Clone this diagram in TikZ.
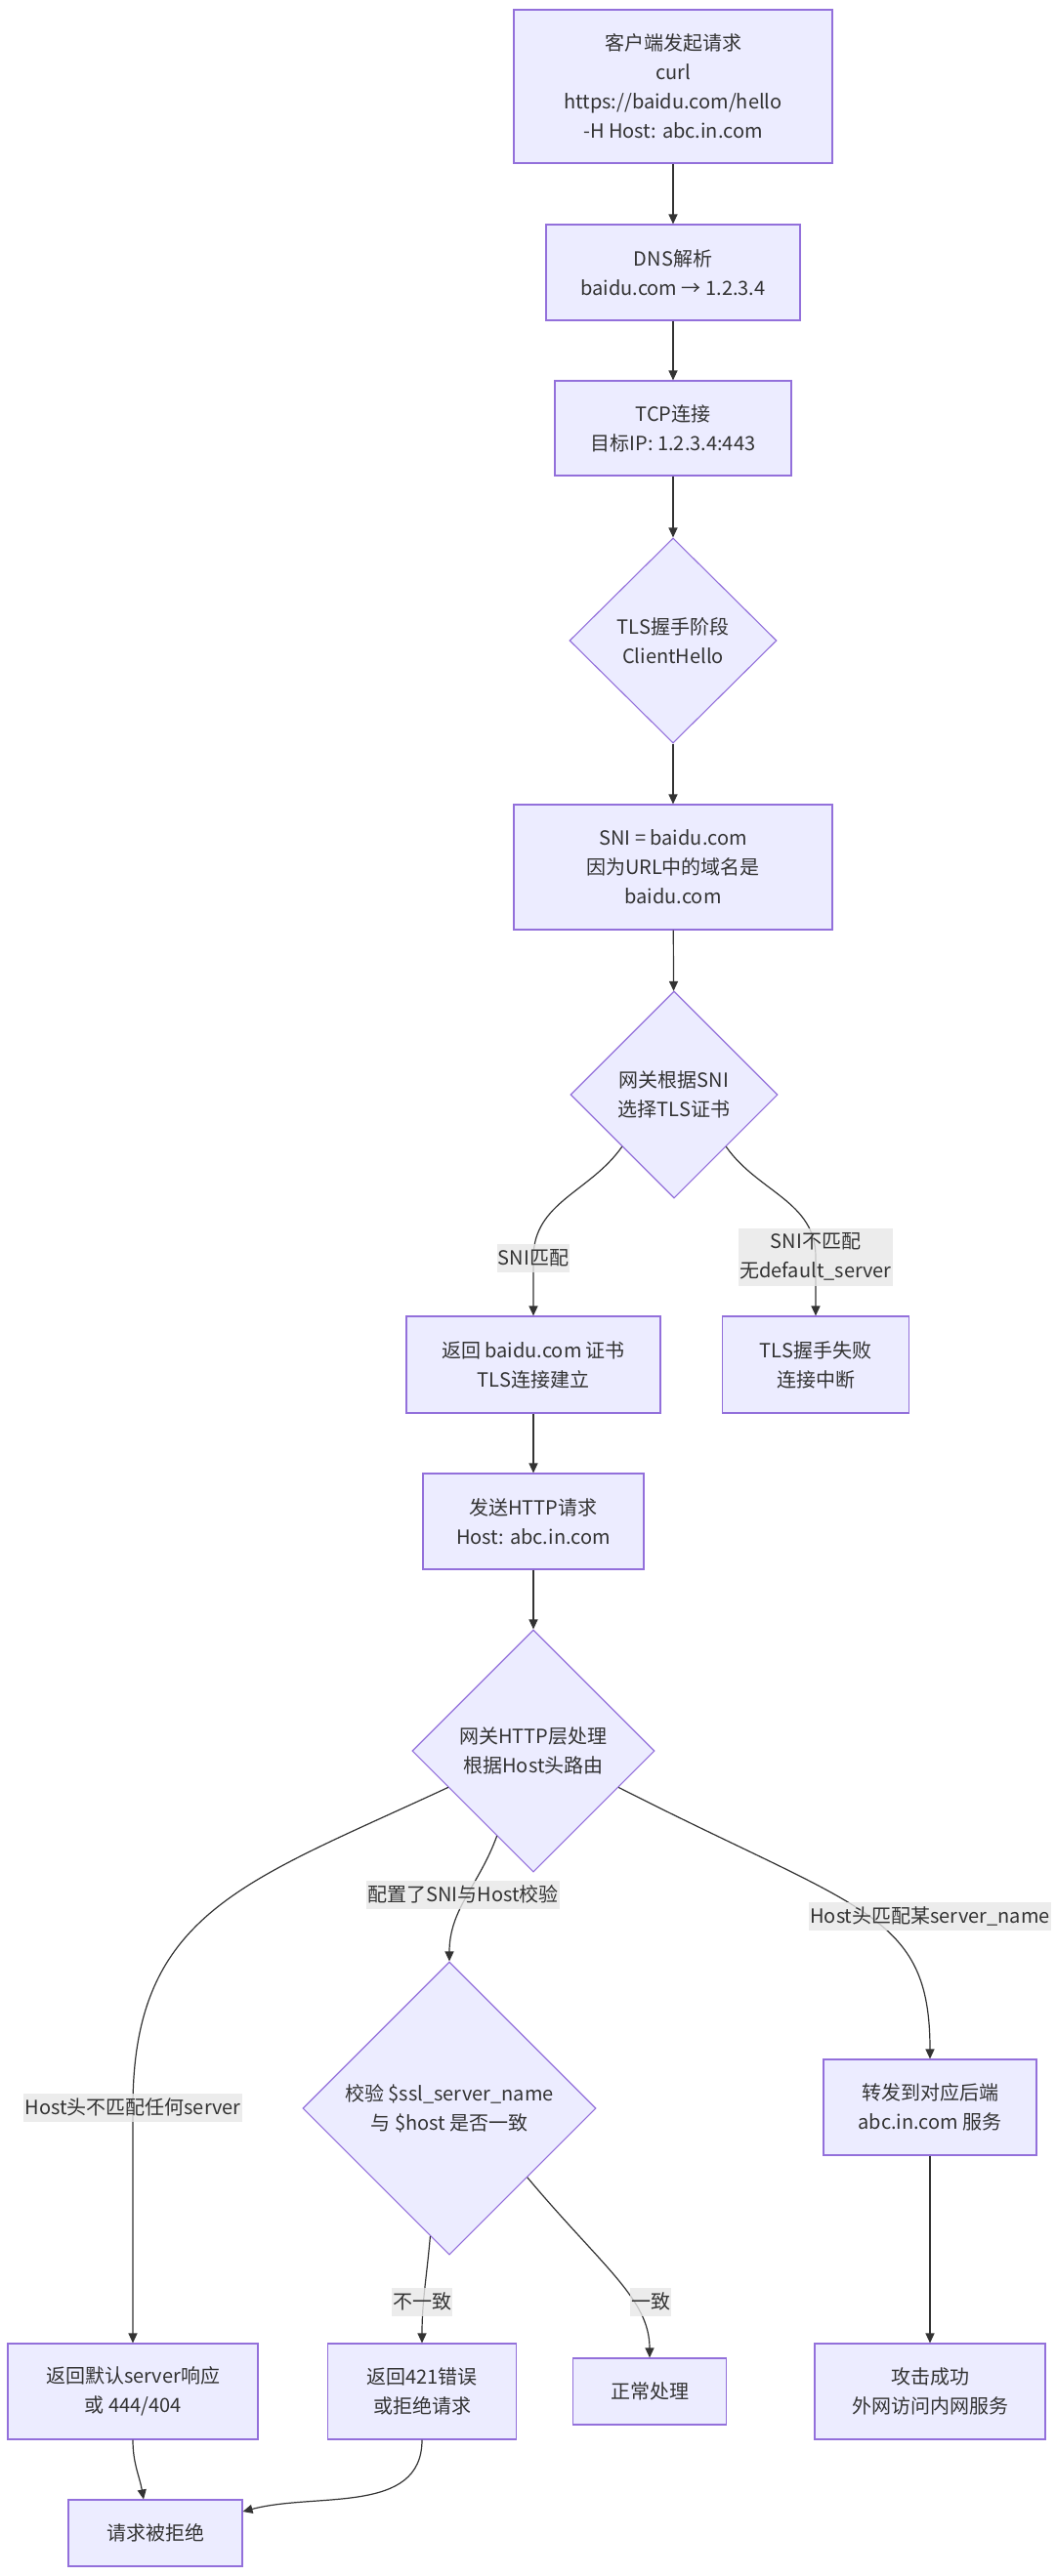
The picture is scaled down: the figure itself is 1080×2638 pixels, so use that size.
\documentclass[tikz,border=0pt]{standalone}
\usepackage{fontspec}
\setmainfont{Noto Sans CJK SC}
\usetikzlibrary{arrows.meta,calc,shapes.geometric}
\definecolor{boxfill}{HTML}{ECECFF}
\definecolor{boxline}{HTML}{9370DB}
\definecolor{edgeline}{HTML}{333333}
\definecolor{lblfill}{HTML}{E8E8E8}
\tikzset{>={Triangle[length=10pt,width=9pt]}}
\tikzset{%
    flowbox/.style={draw=boxline, fill=boxfill, line width=1.1pt, inner sep=0pt,%
        align=center, text=edgeline},%
    decision/.style={flowbox, diamond, aspect=1},%
    edgelbl/.style={fill=lblfill, fill opacity=0.8, text opacity=1, inner xsep=1pt,%
        inner ysep=0pt, minimum height=29pt, align=center, text=edgeline},%
    flow/.style={->, draw=edgeline, line width=1.2pt}%
}

\begin{document}
\begin{tikzpicture}[x=1pt,y=1pt,font=\fontsize{20pt}{30pt}\selectfont]
      \path[use as bounding box, fill=white] (0,0) rectangle (1080,-2638);
      % main column
      \node[flowbox, minimum width=326pt, minimum height=157pt] (req) at (689,-88.5)
        {客户端发起请求\\curl\\https://baidu.com/hello\\-H Host: abc.in.com};
      \node[flowbox, minimum width=260pt, minimum height=98pt] (dns) at (689,-279)
        {DNS解析\\baidu.com → 1.2.3.4};
      \node[flowbox, minimum width=242pt, minimum height=97pt] (tcp) at (689,-438.5)
        {TCP连接\\目标IP: 1.2.3.4:443};
      \node[decision, minimum width=212pt, minimum height=210pt] (tls) at (689,-656)
        {TLS握手阶段\\ClientHello};
      \node[flowbox, minimum width=326pt, minimum height=128pt] (sni) at (689,-888)
        {SNI = baidu.com\\因为URL中的域名是\\baidu.com};
      \node[decision, minimum width=212pt, minimum height=212pt] (sel) at (690,-1121)
        {网关根据SNI\\选择TLS证书};
      % TLS branches
      \node[flowbox, minimum width=260pt, minimum height=99pt] (cert) at (546,-1397.5)
        {返回 baidu.com 证书\\TLS连接建立};
      \node[flowbox, minimum width=191pt, minimum height=99pt] (fail) at (835,-1397.5)
        {TLS握手失败\\连接中断};
      \node[flowbox, minimum width=226pt, minimum height=98pt] (http) at (546,-1558)
        {发送HTTP请求\\Host: abc.in.com};
      \node[decision, minimum width=248pt, minimum height=248pt] (route) at (546,-1793)
        {网关HTTP层处理\\根据Host头路由};
      % HTTP branches
      \node[decision, minimum width=300pt, minimum height=300pt] (check) at (460,-2159)
        {校验 \$ssl\_server\_name\\与 \$host 是否一致};
      \node[flowbox, minimum width=218pt, minimum height=98pt] (fwd) at (952,-2158)
        {转发到对应后端\\abc.in.com 服务};
      \node[flowbox, minimum width=256pt, minimum height=98pt] (dflt) at (136,-2449)
        {返回默认server响应\\或 444/404};
      \node[flowbox, minimum width=193pt, minimum height=98pt] (deny) at (432,-2449)
        {返回421错误\\或拒绝请求};
      \node[flowbox, minimum width=157pt, minimum height=68pt] (ok) at (665,-2449)
        {正常处理};
      \node[flowbox, minimum width=236pt, minimum height=98pt] (win) at (952,-2449)
        {攻击成功\\外网访问内网服务};
      \node[flowbox, minimum width=178pt, minimum height=68pt] (reject) at (159,-2594)
        {请求被拒绝};
      % label spots
      \coordinate (ksni) at (546,-1288);
      \coordinate (kfail) at (835,-1287);
      \coordinate (kdflt) at (136,-2158);
      % connectors
      \draw[flow] (req) -- (dns);
      \draw[flow] (dns) -- (tcp);
      \draw[flow] (tcp) -- (tls);
      \draw[flow] (tls) -- (sni);
      \draw[flow] (sni) -- (sel);
      \draw[flow] ($(sel.west)!.5!(sel.south)$) to[out=-125,in=90] (ksni) -- (cert.north);
      \draw[flow] ($(sel.east)!.5!(sel.south)$) to[out=-55,in=90] (kfail) -- (fail.north);
      \draw[flow] (cert) -- (http);
      \draw[flow] (http) -- (route);
      \draw[flow] ($(route.west)!.3!(route.south)$) .. controls +(205:230) and +(90:200) .. (kdflt) -- (dflt.north);
      \draw[flow] ($(route.west)!.7!(route.south)$) to[out=-110,in=90] (check.north);
      \draw[flow] ($(route.east)!.3!(route.south)$) .. controls +(-27:280) and +(90:150) .. (fwd.north);
      \draw[flow] ($(check.west)!.87!(check.south)$) to[out=-95,in=90] (deny.north);
      \draw[flow] ($(check.east)!.47!(check.south)$) .. controls +(-50:120) and +(90:60) .. (ok.north);
      \draw[flow] (fwd) -- (win);
      \draw[flow] (dflt.south) to[out=-90,in=100] ($(reject.north)+(-12,0)$);
      \draw[flow] (deny.south) to[out=-90,in=15] ($(reject.east)+(0,22)$);
      % edge labels
      \node[edgelbl] (lsni) at (ksni) {SNI匹配};
      \node[edgelbl, minimum height=59pt] (lfail) at (kfail) {SNI不匹配\\无default\_server};
      \node[edgelbl] (lcheck) at (474,-1940) {配置了SNI与Host校验};
      \node[edgelbl] (lfwd) at (952,-1962) {Host头匹配某server\_name};
      \node[edgelbl] (ldflt) at (kdflt) {Host头不匹配任何server};
      \node[edgelbl] (ldeny) at (432,-2357) {不一致};
      \node[edgelbl] (lok) at (666,-2357) {一致};
\end{tikzpicture}
\end{document}
